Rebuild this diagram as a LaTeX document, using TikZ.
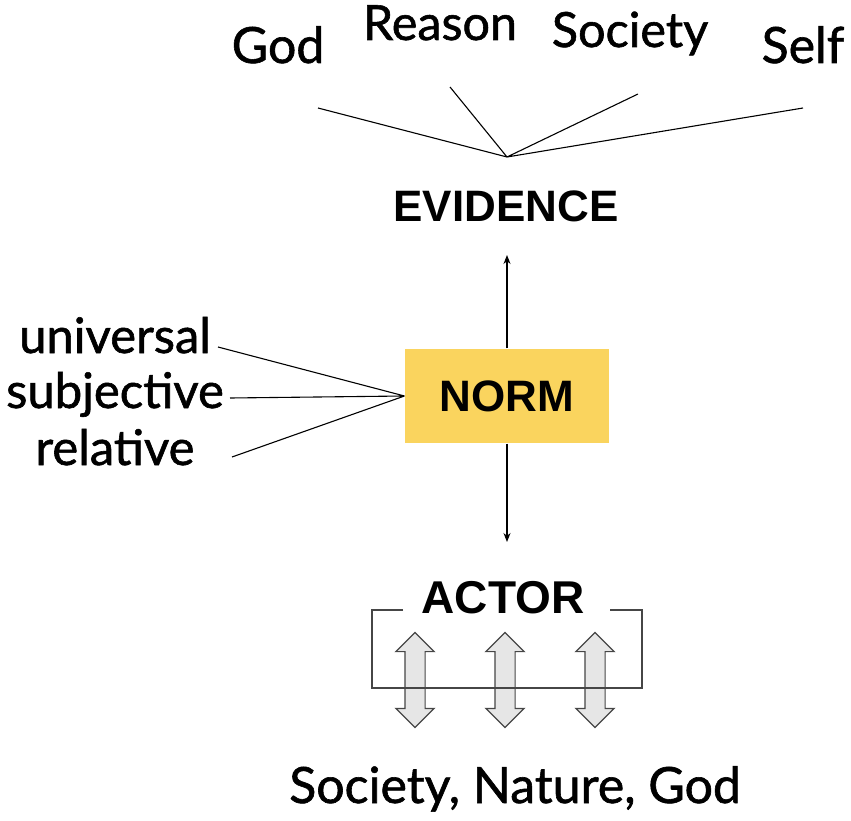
\documentclass[tikz,border=0pt]{standalone}
\usepackage{fontspec}
\setmainfont{Lato}
\newfontfamily\heavy{Lato}[FakeBold=1.2]
\newfontfamily\boldsans{Liberation Sans}[BoldFont={Liberation Sans Bold}]
\usetikzlibrary{arrows.meta,shapes.arrows}
\definecolor{normyellow}{RGB}{250,212,94}
\definecolor{arrowgray}{RGB}{226,226,226}
\definecolor{linegray}{RGB}{70,70,70}

\tikzset{
	label/.style={anchor=base,inner sep=0pt,font=\heavy\fontsize{#1}{#1}\selectfont},
	title/.style={anchor=base,inner sep=0pt,font=\boldsans\bfseries\fontsize{#1}{#1}\selectfont},
	normbox/.style={fill=normyellow,minimum width=204pt,minimum height=94pt,inner sep=0pt,font=\boldsans\bfseries\fontsize{44}{44}\selectfont},
	dblarrow/.style={double arrow,shape border rotate=90,draw=linegray,fill=arrowgray,fill opacity=0.85,line width=1.2pt,
		minimum height=95pt,minimum width=37pt,double arrow head extend=9pt,double arrow head indent=0pt,inner sep=9.5pt}
}

\begin{document}
\begin{tikzpicture}[x=1pt,y=-1pt,>={Stealth[length=9pt,width=7pt]},line width=1.1pt]
	\useasboundingbox (0,0) rectangle (851,821);

	% sources of evidence
	\node[label=50] (god)     at (278,63) {God};
	\node[label=48.5] (reason)  at (440,40) {Reason};
	\node[label=48.5] (society) at (630,47) {Society};
	\node[label=50] (self)    at (803,63) {Self};
	\coordinate (god end)     at (318,108);
	\coordinate (reason end)  at (450,87);
	\coordinate (society end) at (638,94);
	\coordinate (self end)    at (803,108);
	\coordinate (meet)        at (507,157);

	\node[title=44] (evidence) at (506,222) {EVIDENCE};
	\node[normbox] (norm) at (507,396) {NORM};

	% kinds of norm
	\node[label=49] (universal)  at (115,353) {universal};
	\node[label=49] (subjective) at (115,408) {subjective};
	\node[label=49] (relative)   at (115,465) {relative};
	\coordinate (universal end)  at (218,347);
	\coordinate (subjective end) at (230,398);
	\coordinate (relative end)   at (232,457);

	\node[title=46] (actor) at (503,613) {ACTOR};
	\coordinate (evidence tip) at (507,255);
	\coordinate (actor tip)    at (507,542);

	\node[label=50] (others) at (515,803) {Society, Nature, God};

	\draw (god end) -- (meet) (reason end) -- (meet)
		(society end) -- (meet) (self end) -- (meet);
	\draw (universal end) -- (norm.west) (subjective end) -- (norm.west)
		(relative end) -- (norm.west);
	\draw[->] (norm.north) -- (evidence tip);
	\draw[->] (norm.south) -- (actor tip);

	% actor and its relations
	\node[dblarrow] (rel1) at (415,680) {};
	\node[dblarrow] (rel2) at (505,680) {};
	\node[dblarrow] (rel3) at (595,680) {};
	\draw[linegray] (403,610) -- (372,610) -- (372,688) -- (642,688) -- (642,610) -- (610,610);
\end{tikzpicture}
\end{document}
